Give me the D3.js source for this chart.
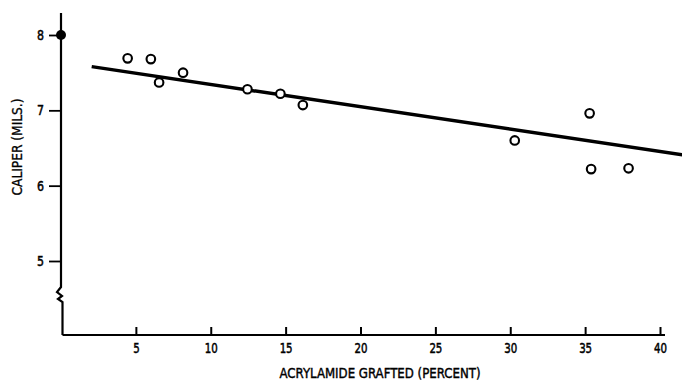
<!DOCTYPE html>
<html>
<head>
<meta charset="utf-8">
<script src="https://cdn.jsdelivr.net/npm/d3@7"></script>
<style>
  html, body { margin: 0; padding: 0; background: #fff; }
  svg { display: block; }
  text { font-family: "DejaVu Sans Condensed", "Liberation Sans Narrow", "DejaVu Sans", sans-serif; font-stretch: condensed; fill: #000; }
</style>
</head>
<body>
<svg id="chart" width="682" height="380"></svg>
<script>
// Acrylamide grafted (%) vs. caliper (mils)
const graftPct = [4.45, 6.0, 6.55, 8.15, 12.45, 14.65, 16.15, 30.3, 35.3, 35.4, 37.9];
const caliper  = [7.69, 7.68, 7.37, 7.50, 7.28, 7.22, 7.07, 6.60, 6.96, 6.22, 6.23];

// Ungrafted control
const controlPct = [0];
const controlCaliper = [8.0];

// Fitted trend line end points
const fitPct = [2.05, 41.5];
const fitCaliper = [7.58, 6.41];

const xTicks = [5, 10, 15, 20, 25, 30, 35, 40];
const yTicks = [5, 6, 7, 8];

const xTitle = "ACRYLAMIDE GRAFTED (PERCENT)";
const yTitle = "CALIPER (MILS.)";

const svg = d3.select("#chart");

const x = d3.scaleLinear().domain([0, 40]).range([61, 660]);
const y = d3.scaleLinear().domain([5, 8]).range([261, 35]);

const axisX = 61;
const baseY = 335;
const labelFont = '"DejaVu Sans Condensed", "Liberation Sans Narrow", "DejaVu Sans", sans-serif';

// Y axis: spine with a break near the bottom
const yTop = 13;
const breakTop = 287;
const spine = d3.path();
spine.moveTo(axisX, yTop);
spine.lineTo(axisX, breakTop);
spine.lineTo(axisX - 4, breakTop + 5);
spine.lineTo(axisX + 1, breakTop + 9);
spine.lineTo(axisX - 3, breakTop + 12);
spine.lineTo(axisX + 1.5, breakTop + 15);
spine.lineTo(axisX + 1.5, baseY);
svg.append("path")
  .attr("d", spine.toString())
  .attr("fill", "none")
  .attr("stroke", "#000")
  .attr("stroke-width", 2.2)
  .attr("stroke-linejoin", "miter");

// Shared styling for tick numerals
function styleTickText(sel) {
  sel.style("font-family", labelFont).style("font-stretch", "condensed")
    .style("font-size", "14px").style("font-weight", "normal")
    .attr("fill", "#000").attr("stroke", "#000").attr("stroke-width", 0.5);
}

// Y ticks and labels
const yAxis = d3.axisLeft(y).tickValues(yTicks).tickSize(12).tickPadding(5).tickFormat(d3.format("d"));
const gy = svg.append("g").attr("transform", `translate(${axisX},0)`).call(yAxis);
gy.select(".domain").remove();
gy.selectAll(".tick line").attr("stroke", "#000").attr("stroke-width", 1.8);
styleTickText(gy.selectAll(".tick text").attr("textLength", 7).attr("lengthAdjust", "spacingAndGlyphs"));

// X axis baseline and inward ticks
const xAxis = d3.axisBottom(x).tickValues(xTicks).tickSize(0).tickPadding(8).tickFormat(d3.format("d"));
const gx = svg.append("g").attr("transform", `translate(0,${baseY})`).call(xAxis);
gx.select(".domain").remove();
styleTickText(gx.selectAll(".tick text")
  .attr("textLength", d => String(d).length * 6.5)
  .attr("lengthAdjust", "spacingAndGlyphs"));
gx.selectAll(".tick").append("line")
  .attr("x1", 0).attr("x2", 0).attr("y1", 0).attr("y2", -8)
  .attr("stroke", "#000").attr("stroke-width", 2);
svg.append("line")
  .attr("x1", axisX + 1.5).attr("x2", x(40) + 5)
  .attr("y1", baseY).attr("y2", baseY)
  .attr("stroke", "#000").attr("stroke-width", 2.2);

// Axis titles
svg.append("text")
  .attr("x", 380).attr("y", 378)
  .attr("text-anchor", "middle")
  .attr("textLength", 201)
  .attr("lengthAdjust", "spacingAndGlyphs")
  .attr("stroke", "#000").attr("stroke-width", 0.4)
  .style("font-size", "14px")
  .text(xTitle);

svg.append("text")
  .attr("transform", "translate(22,147) rotate(-90)")
  .attr("text-anchor", "middle")
  .attr("textLength", 97)
  .attr("lengthAdjust", "spacingAndGlyphs")
  .attr("stroke", "#000").attr("stroke-width", 0.3)
  .style("font-size", "13.5px")
  .text(yTitle);

// Trend line
const fitData = fitPct.map((p, i) => [p, fitCaliper[i]]);
svg.append("path")
  .datum(fitData)
  .attr("d", d3.line().x(d => x(d[0])).y(d => y(d[1])))
  .attr("fill", "none")
  .attr("stroke", "#000")
  .attr("stroke-width", 3.5);

// Grafted samples: open circles
svg.selectAll("circle.sample")
  .data(graftPct.map((p, i) => [p, caliper[i]]))
  .join("circle")
  .attr("class", "sample")
  .attr("cx", d => x(d[0]))
  .attr("cy", d => y(d[1]))
  .attr("r", 4.3)
  .attr("fill", "#fff")
  .attr("stroke", "#000")
  .attr("stroke-width", 2.1);

// Control: filled circle on the axis
svg.selectAll("circle.control")
  .data(controlPct.map((p, i) => [p, controlCaliper[i]]))
  .join("circle")
  .attr("class", "control")
  .attr("cx", d => x(d[0]))
  .attr("cy", d => y(d[1]))
  .attr("r", 5)
  .attr("fill", "#000");
</script>
</body>
</html>
